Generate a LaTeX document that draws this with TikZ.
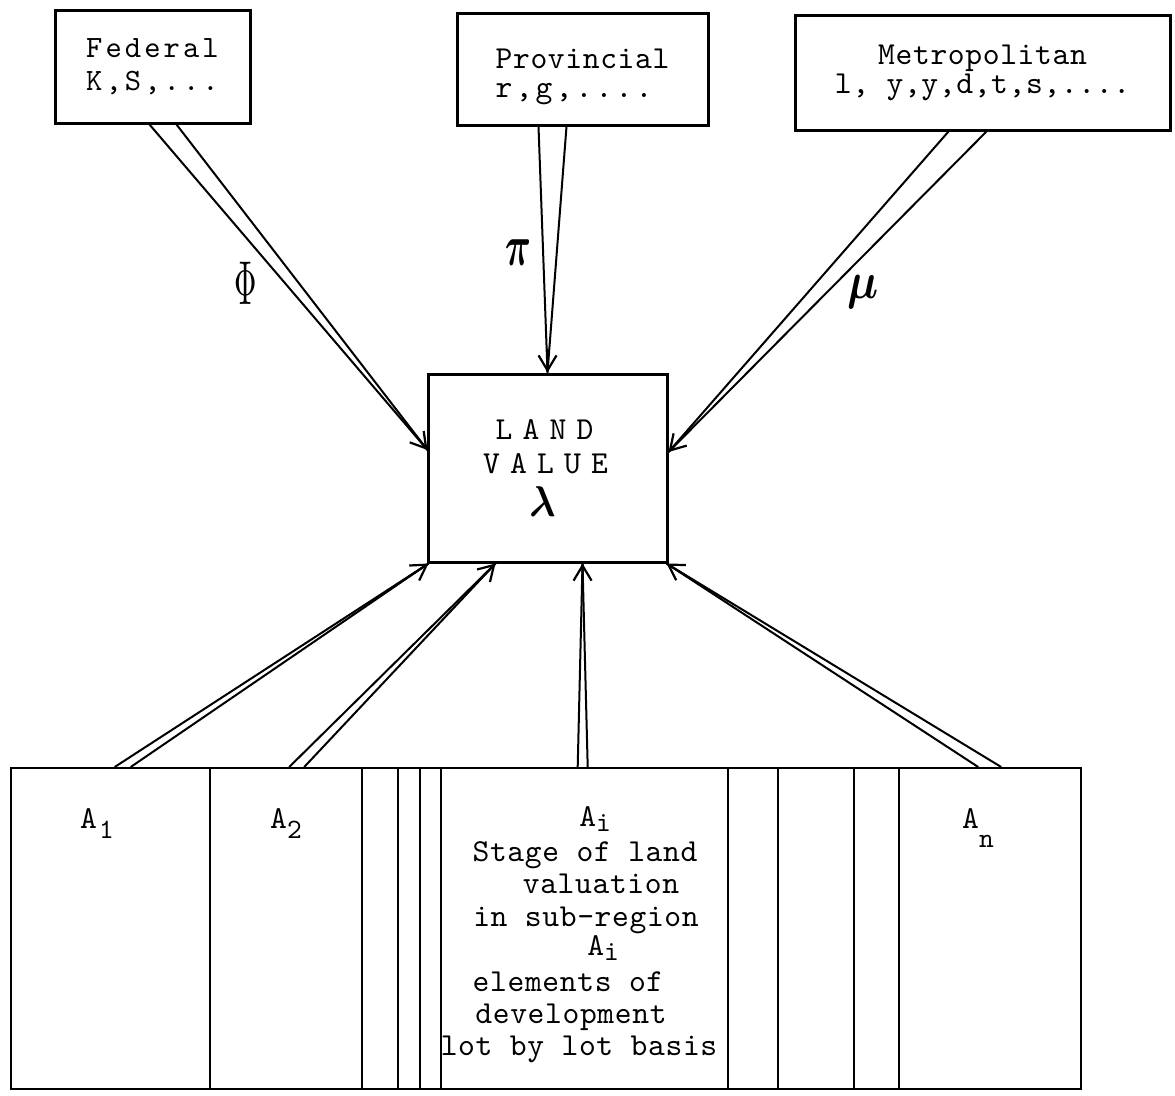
\documentclass[tikz,border=0pt]{standalone}
\usepackage{amsmath}
\usepackage{fontspec}
\setmainfont{lmmono10-regular}[Extension=.otf, LetterSpace=2]
\newfontfamily\twA{lmmono10-regular}[Extension=.otf, LetterSpace=10]
\newfontfamily\twL{lmmono10-regular}[Extension=.otf, LetterSpace=32]
\usetikzlibrary{arrows.meta,calc}
\newcommand\tsub[2][9pt]{\raisebox{-#1}{\fontsize{28}{28}\selectfont #2}}
\tikzset{
  box/.style={draw, line width=3pt, rectangle, inner sep=0pt},
  cell/.style={draw, line width=2.4pt, rectangle, inner sep=0pt, anchor=north west, minimum height=321pt},
  wire/.style={line width=2pt},
  head/.style={line width=2pt, -{Straight Barb[length=15pt,width=18pt,line width=2.2pt]}},
  txt/.style={inner sep=0pt, font=\fontsize{32}{33}\selectfont},
  greek/.style={inner sep=0pt}
}
\begin{document}
\begin{tikzpicture}[x=1pt,y=-1pt]
\fill[white] (0,0) rectangle (1175,1095);
\useasboundingbox (0,0) rectangle (1175,1095);

% top boxes
\node[box, minimum width=195, minimum height=113, align=left,
      font=\twA\fontsize{31}{33}\selectfont] (fed) at (152.5,66.5) {Federal\\K,S,...};
\node[box, minimum width=251, minimum height=112, align=left,
      font=\fontsize{32}{29}\selectfont] (prov) at (582.5,69) {\rule{0pt}{36pt}Provincial\\{\twA r,g,....}};
\node[box, minimum width=375, minimum height=115, align=center,
      font=\fontsize{32}{29}\selectfont] (met) at (982.5,72.5) {Metropolitan\\l, y,y,d,t,s,....};

% land value
\node[box, minimum width=239, minimum height=188, align=center,
      font=\twL\fontsize{32}{34}\selectfont] (lv) at (547.5,468)
      {\hspace*{-6pt}LAND\\\hspace*{-4pt}VALUE\\[9pt]{\fontsize{10}{10}\selectfont\hspace*{-10pt}\scalebox{3.9}[4.3]{$\boldsymbol{\lambda}$}}};

% bottom strip cells
\node[cell, minimum width=199] (c1) at (10,767) {};
\node[cell, minimum width=152] (c2) at (209,767) {};
\node[cell, minimum width=36] (c3) at (361,767) {};
\node[cell, minimum width=22] (c4) at (397,767) {};
\node[cell, minimum width=21] (c5) at (419,767) {};
\node[cell, minimum width=287] (ci) at (440,767) {};
\node[cell, minimum width=50] (c7) at (727,767) {};
\node[cell, minimum width=76] (c8) at (777,767) {};
\node[cell, minimum width=45] (c9) at (853,767) {};
\node[cell, minimum width=182] (cn) at (898,767) {};

% cell texts
\node[txt, anchor=base west] (a1) at (80,828) {A\hspace{2pt}\tsub[10pt]{1}};
\node[txt, anchor=base west] (a2) at (270,828) {A\tsub[10pt]{2}};
\node[txt, anchor=base west] (an) at (962,828) {A\tsub[19pt]{n}};
\node[txt, anchor=base] (l1) at (595,826) {A\tsub[5pt]{i}};
\node[txt, anchor=base] (l2) at (585,861) {Stage of land};
\node[txt, anchor=base] (l3) at (601,893) {valuation};
\node[txt, anchor=base] (l4) at (586,926) {in sub-region};
\node[txt, anchor=base] (l5) at (603,955) {A\tsub[5pt]{i}};
\node[txt, anchor=base] (l6) at (568,991) {elements of};
\node[txt, anchor=base] (l7) at (571,1023) {development};
\node[txt, anchor=base] (l8) at (579,1055) {lot by lot basis};

% tips
\coordinate (tF) at ($(lv.west)+(1,-18)$);
\coordinate (tP) at (lv.north);
\coordinate (tM) at ($(lv.east)+(0,-16)$);
\coordinate (t1) at ($(lv.south west)+(2,0)$);
\coordinate (t2) at ($(lv.south)+(-52,0)$);
\coordinate (ti) at ($(lv.south)+(35,0)$);
\coordinate (tn) at ($(lv.south east)+(-2,0)$);

% sources
\coordinate (sF1) at ($(fed.south)+(-3,0)$);
\coordinate (sF2) at ($(fed.south)+(24,0)$);
\coordinate (mF) at ($(fed.south)+(10.5,0)$);
\coordinate (sP1) at ($(prov.south)+(-44,0)$);
\coordinate (sP2) at ($(prov.south)+(-16,0)$);
\coordinate (mP) at ($(prov.south)+(-34.5,0)$);
\coordinate (sM1) at ($(met.south)+(-34,0)$);
\coordinate (sM2) at ($(met.south)+(4,0)$);
\coordinate (mM) at ($(met.south)+(-15,0)$);
\coordinate (s11) at ($(c1.north)+(4,0)$);
\coordinate (s12) at ($(c1.north)+(20,0)$);
\coordinate (m1) at ($(c1.north)+(12,0)$);
\coordinate (s21) at ($(c2.north)+(3,0)$);
\coordinate (s22) at ($(c2.north)+(18,0)$);
\coordinate (m2) at ($(c2.north)+(10.5,0)$);
\coordinate (si1) at ($(ci.north)+(-7,0)$);
\coordinate (si2) at ($(ci.north)+(3,0)$);
\coordinate (mi) at ($(ci.north)+(-1.5,0)$);
\coordinate (sn1) at ($(cn.north)+(-12,0)$);
\coordinate (sn2) at ($(cn.north)+(11,0)$);
\coordinate (mn) at ($(cn.north)+(-0.5,0)$);

% connectors
\foreach \a/\b/\m/\t in {sF1/sF2/mF/tF, sP1/sP2/mP/tP, sM1/sM2/mM/tM,
                         s11/s12/m1/t1, s21/s22/m2/t2, si1/si2/mi/ti, sn1/sn2/mn/tn}{
  \draw[wire] (\a) -- (\t);
  \draw[wire] (\b) -- (\t);
  \draw[head] ($(\t)!24pt!(\m)$) -- (\t);
}

% labels
\node[greek] (phi) at (246,283) {\scalebox{3.1}[6.2]{$\Phi$}};
\node[greek] (pi) at (518,253) {\scalebox{3.6}[5.8]{$\boldsymbol{\pi}$}};
\node[greek] (mu) at (863,292) {\scalebox{4.4}[5.2]{$\boldsymbol{\mu}$}};
\end{tikzpicture}
\end{document}
